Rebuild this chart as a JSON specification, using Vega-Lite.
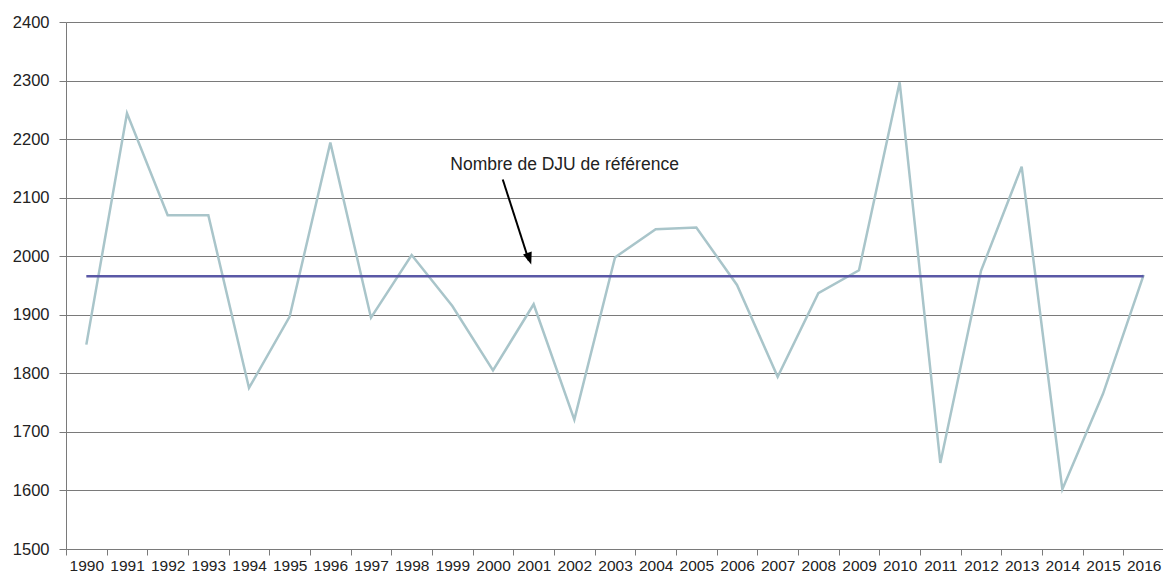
{
  "$schema": "https://vega.github.io/schema/vega-lite/v6.json",
  "autosize": "none",
  "width": 1098,
  "height": 527,
  "padding": {"left": 66, "top": 22, "right": 0, "bottom": 26},
  "config": {
    "view": {"stroke": null},
    "font": "Liberation Sans",
    "axis": {"labelFont": "Liberation Sans", "labelColor": "#222222"}
  },
  "datasets": {
    "dju": [
      {"year": "1990", "value": 1849}, {"year": "1991", "value": 2244}, {"year": "1992", "value": 2070},
      {"year": "1993", "value": 2070}, {"year": "1994", "value": 1775}, {"year": "1995", "value": 1897},
      {"year": "1996", "value": 2194}, {"year": "1997", "value": 1895}, {"year": "1998", "value": 2002},
      {"year": "1999", "value": 1915}, {"year": "2000", "value": 1805}, {"year": "2001", "value": 1918},
      {"year": "2002", "value": 1721}, {"year": "2003", "value": 1998}, {"year": "2004", "value": 2046},
      {"year": "2005", "value": 2049}, {"year": "2006", "value": 1951}, {"year": "2007", "value": 1794},
      {"year": "2008", "value": 1937}, {"year": "2009", "value": 1976}, {"year": "2010", "value": 2297},
      {"year": "2011", "value": 1647}, {"year": "2012", "value": 1975}, {"year": "2013", "value": 2153},
      {"year": "2014", "value": 1602}, {"year": "2015", "value": 1765}, {"year": "2016", "value": 1968}
    ],
    "ref": [{"x": 1990, "x2": 2016, "y": 1966}],
    "label": [{"x": 2001.76, "y": 2155, "text": "Nombre de DJU de référence"}],
    "arrow": [{"x": 2000.24, "y": 2131, "x2": 2000.88, "y2": 1993}],
    "head": [{"x": 2000.94, "y": 1986}]
  },
  "layer": [
    {
      "data": {"name": "dju"},
      "mark": {"type": "line", "color": "#a9c5ca", "strokeWidth": 2.5},
      "encoding": {
        "x": {
          "field": "year", "type": "ordinal", "bandPosition": 0.5,
          "scale": {"type": "band", "paddingInner": 0, "paddingOuter": 0},
          "axis": {"title": null, "labelAngle": 0, "tickBand": "extent", "grid": false, "labelFontSize": 15.5,
                   "domainColor": "#7a7a7a", "tickColor": "#7a7a7a", "tickSize": 6, "labelPadding": 3}
        },
        "y": {
          "field": "value", "type": "quantitative",
          "scale": {"domain": [1500, 2400], "nice": false, "zero": false},
          "axis": {"title": null, "values": [1500, 1600, 1700, 1800, 1900, 2000, 2100, 2200, 2300, 2400],
                   "format": "d", "labelFontSize": 16.5,
                   "grid": true, "gridColor": "#7a7a7a", "gridOpacity": 1, "gridWidth": 1,
                   "domainColor": "#7a7a7a", "tickColor": "#7a7a7a", "tickSize": 7, "labelPadding": 10}
        }
      }
    },
    {
      "data": {"name": "ref"},
      "mark": {"type": "rule", "color": "#5a58a6", "strokeWidth": 2.5},
      "encoding": {
        "x": {"field": "x", "type": "quantitative", "scale": {"domain": [1989.5, 2016.5], "nice": false, "zero": false}, "axis": null},
        "x2": {"field": "x2"},
        "y": {"field": "y", "type": "quantitative"}
      }
    },
    {
      "data": {"name": "label"},
      "mark": {"type": "text", "fontSize": 17.5, "color": "#222222", "align": "center", "baseline": "middle"},
      "encoding": {
        "x": {"field": "x", "type": "quantitative", "scale": {"domain": [1989.5, 2016.5], "nice": false, "zero": false}, "axis": null},
        "y": {"field": "y", "type": "quantitative"},
        "text": {"field": "text"}
      }
    },
    {
      "data": {"name": "arrow"},
      "mark": {"type": "rule", "color": "#000000", "strokeWidth": 2},
      "encoding": {
        "x": {"field": "x", "type": "quantitative", "scale": {"domain": [1989.5, 2016.5], "nice": false, "zero": false}, "axis": null},
        "x2": {"field": "x2"},
        "y": {"field": "y", "type": "quantitative"},
        "y2": {"field": "y2"}
      }
    },
    {
      "data": {"name": "head"},
      "mark": {"type": "point", "shape": "M0,0 L-0.38,-1 L0.38,-1 Z", "filled": true, "color": "#000000", "opacity": 1, "size": 576, "angle": -18.7},
      "encoding": {
        "x": {"field": "x", "type": "quantitative", "scale": {"domain": [1989.5, 2016.5], "nice": false, "zero": false}, "axis": null},
        "y": {"field": "y", "type": "quantitative"}
      }
    }
  ],
  "resolve": {"scale": {"x": "independent"}}
}
